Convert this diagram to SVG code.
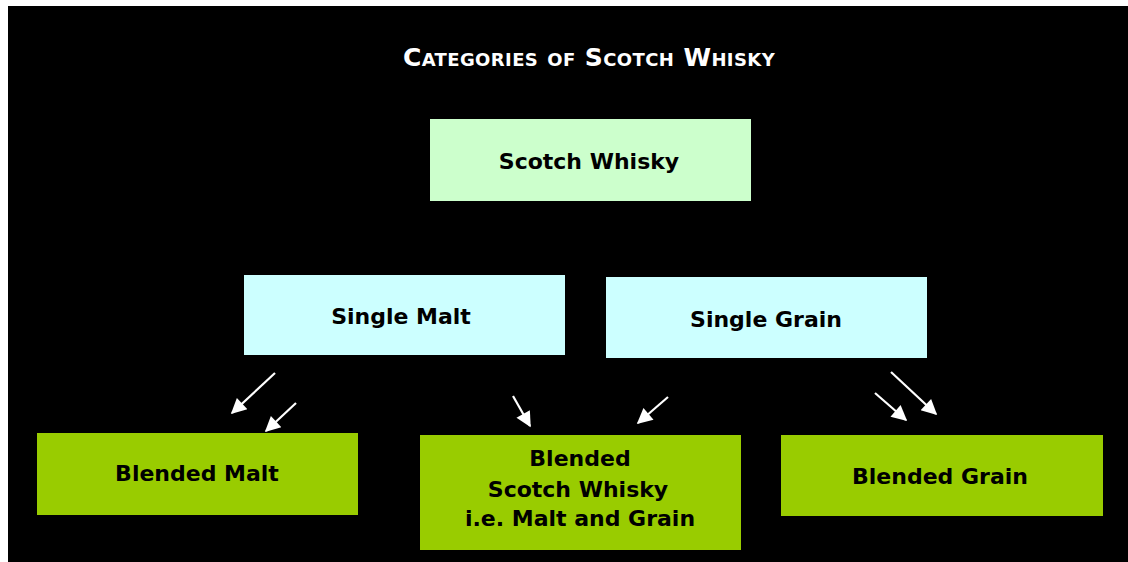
<svg xmlns="http://www.w3.org/2000/svg" width="1128" height="562" viewBox="0 0 1128 562">
<defs>
<style>
.t{font-family:"DejaVu Sans","Noto Sans",sans-serif;font-weight:bold;font-size:22px;fill:#000;text-anchor:middle}
.title{font-family:"DejaVu Sans","Noto Sans",sans-serif;font-weight:bold;font-size:25px;fill:#fff;text-anchor:middle;font-variant:small-caps;letter-spacing:0.4px}
.top{fill:#ccffcc}
.mid{fill:#ccffff}
.bot{fill:#99cc00}
.c{stroke:#fff;stroke-width:2.2;fill:none;marker-end:url(#ah)}
</style>
<marker id="ah" viewBox="0 0 10 10" refX="9" refY="5" markerWidth="8" markerHeight="7" markerUnits="strokeWidth" orient="auto">
<path d="M0,0 L10,5 L0,10 z" fill="#fff"/>
</marker>
</defs>
<rect x="0" y="0" width="1128" height="562" fill="#fff"/>
<rect x="8" y="6" width="1120" height="556" fill="#000"/>
<text class="title" x="589" y="66">Categories of Scotch Whisky</text>
<g id="scotch-whisky"><rect class="top" x="430" y="119" width="321" height="82"/><text class="t" x="589" y="169">Scotch Whisky</text></g>
<g id="single-malt"><rect class="mid" x="244" y="275" width="321" height="80"/><text class="t" x="401" y="324">Single Malt</text></g>
<g id="single-grain"><rect class="mid" x="606" y="277" width="321" height="81"/><text class="t" x="766" y="327">Single Grain</text></g>
<g id="blended-malt"><rect class="bot" x="37" y="433" width="321" height="82"/><text class="t" x="197" y="481">Blended Malt</text></g>
<g id="blended-scotch"><rect class="bot" x="420" y="435" width="321" height="115"/><text class="t" x="580" y="466">Blended</text><text class="t" x="578" y="497">Scotch Whisky</text><text class="t" x="580" y="526">i.e. Malt and Grain</text></g>
<g id="blended-grain"><rect class="bot" x="781" y="435" width="322" height="81"/><text class="t" x="940" y="484">Blended Grain</text></g>
<g id="connectors">
<line class="c" x1="275" y1="373" x2="232" y2="413"/>
<line class="c" x1="296" y1="403" x2="266" y2="431"/>
<line class="c" x1="513" y1="396" x2="530" y2="426"/>
<line class="c" x1="668" y1="397" x2="638" y2="423"/>
<line class="c" x1="891" y1="372" x2="936" y2="414"/>
<line class="c" x1="875" y1="393" x2="906" y2="420"/>
</g>
</svg>
